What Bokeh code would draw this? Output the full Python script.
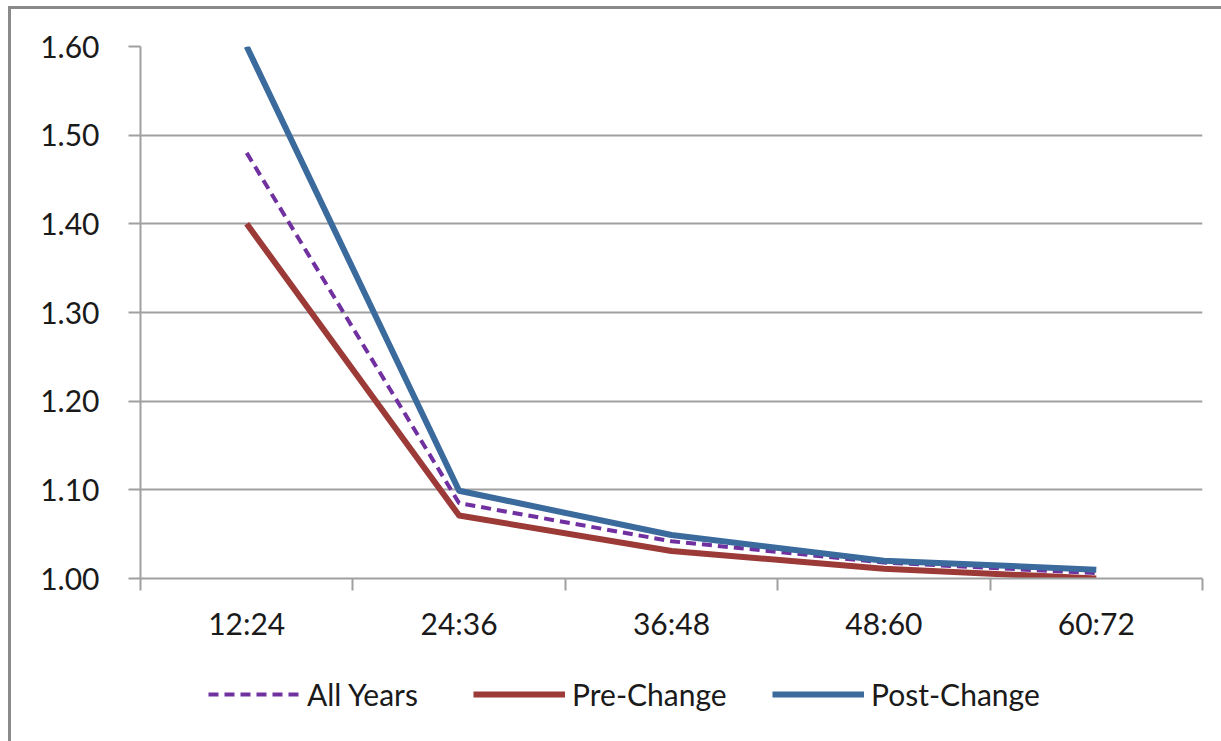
from bokeh.plotting import figure
from bokeh.layouts import column
from bokeh.models import (Range1d, FixedTicker, CustomJSTickFormatter, NumeralTickFormatter,
                          Legend, LegendItem)
from bokeh.embed import file_html
from bokeh.resources import INLINE

# Development periods and age-to-age factors
periods = ["12:24", "24:36", "36:48", "48:60", "60:72"]
all_years = [1.48, 1.085, 1.042, 1.018, 1.006]
pre_change = [1.40, 1.071, 1.031, 1.011, 1.000]
post_change = [1.60, 1.099, 1.049, 1.020, 1.010]
y_ticks = [1.00, 1.10, 1.20, 1.30, 1.40, 1.50, 1.60]

FONT = "Lato"
FONT_SIZE = "30px"
GRAY = "#a0a0a0"
TEXT = "#1a1a1a"

series = [
    ("All Years", all_years, dict(line_color="#7030a0", line_width=4, line_dash="10 6")),
    ("Pre-Change", pre_change, dict(line_color="#9b3a37", line_width=6, line_join="round")),
    ("Post-Change", post_change, dict(line_color="#3b6a9c", line_width=6, line_join="round")),
]

xs = [i + 0.5 for i in range(len(periods))]

p = figure(width=1210, height=639, output_backend="svg", toolbar_location=None,
           x_range=Range1d(0, len(periods)), y_range=Range1d(y_ticks[0], y_ticks[-1]),
           min_border_left=129, min_border_right=19, min_border_top=37, min_border_bottom=70)
p.outline_line_color = None
p.background_fill_color = "white"
p.border_fill_color = "white"

# x axis: labels centred in each category, tick marks on the boundaries
p.xaxis.ticker = FixedTicker(ticks=xs, minor_ticks=list(range(len(periods) + 1)))
p.xaxis.formatter = CustomJSTickFormatter(args=dict(labels=periods),
                                          code="return labels[Math.floor(tick)];")
p.xaxis.major_tick_line_color = None
p.xaxis.major_tick_out = 0
p.xaxis.major_tick_in = 0
p.xaxis.minor_tick_line_color = GRAY
p.xaxis.minor_tick_line_width = 2
p.xaxis.minor_tick_out = 12
p.xaxis.minor_tick_in = 0
p.xaxis.major_label_standoff = 14
p.xaxis.axis_line_color = GRAY
p.xaxis.axis_line_width = 2
p.xgrid.grid_line_color = None

p.yaxis.ticker = FixedTicker(ticks=y_ticks)
p.yaxis.formatter = NumeralTickFormatter(format="0.00")
p.yaxis.major_tick_line_color = GRAY
p.yaxis.major_tick_line_width = 2
p.yaxis.major_tick_out = 12
p.yaxis.major_tick_in = 0
p.yaxis.minor_tick_line_color = None
p.yaxis.major_label_standoff = 29
p.yaxis.axis_line_color = GRAY
p.yaxis.axis_line_width = 2
p.ygrid.grid_line_color = GRAY
p.ygrid.grid_line_width = 2

for ax in (p.xaxis, p.yaxis):
    ax.major_label_text_font = FONT
    ax.major_label_text_font_size = FONT_SIZE
    ax.major_label_text_color = TEXT

for name, vals, style in series:
    p.line(xs, vals, **style)

# legend strip under the chart: placeholder renderers (nothing drawn) carry each line style
key = figure(width=1210, height=93, output_backend="svg", toolbar_location=None,
             x_range=Range1d(0, 1), y_range=Range1d(0, 1), x_axis_type=None, y_axis_type=None,
             min_border=0)
key.outline_line_color = None
key.grid.grid_line_color = None
key.background_fill_color = "white"
key.border_fill_color = "white"

nan = float("nan")
for (name, vals, style), x0 in zip(series, (68, 333, 632)):
    r = key.line([nan], [nan], **style)
    leg = Legend(items=[LegendItem(label=name, renderers=[r])], location=(x0, 29),
                 padding=0, margin=0, border_line_color=None, background_fill_alpha=0,
                 glyph_width=92, glyph_height=22, label_height=22, label_standoff=7,
                 label_text_font=FONT, label_text_font_size=FONT_SIZE, label_text_color=TEXT)
    key.add_layout(leg, "center")

page = column(p, key, spacing=0)
page.styles = {"margin-left": "8px", "margin-top": "6px",
               "border-left": "3px solid #8a8a8a", "border-top": "3px solid #8a8a8a"}

open("out.html", "w").write(file_html(page, INLINE))
